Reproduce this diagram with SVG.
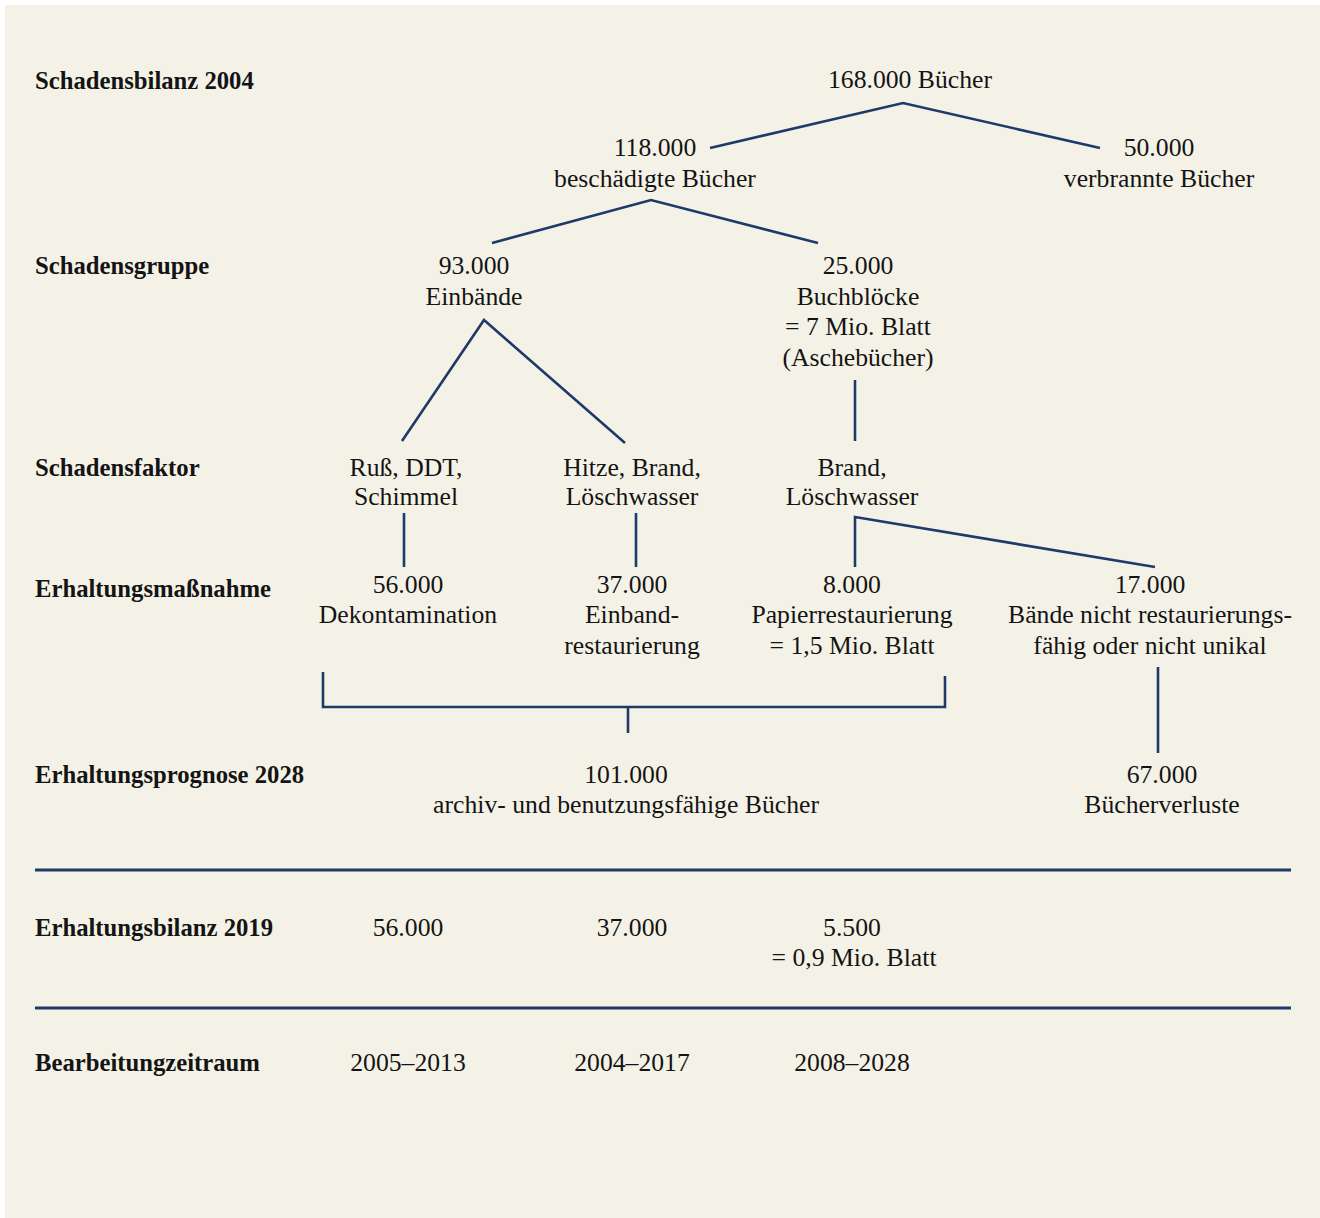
<svg xmlns="http://www.w3.org/2000/svg" width="1320" height="1218" viewBox="0 0 1320 1218">
<style>
.bg{fill:#F4F2E7}
.t{font-family:"Liberation Serif","Times New Roman",serif;font-size:25.7px;fill:#141414;text-anchor:middle}
.h{font-family:"Liberation Serif","Times New Roman",serif;font-size:24.7px;font-weight:bold;fill:#141414}
.c{fill:none;stroke:#1F3A68;stroke-width:2.6;stroke-linejoin:miter}
.r{stroke:#1F3A68;stroke-width:3}
</style>
<rect x="0" y="0" width="1320" height="1218" fill="#FFFFFF"/>
<rect class="bg" x="5" y="5" width="1315" height="1213"/>

<g id="row-labels">
<text class="h" x="35" y="89">Schadensbilanz 2004</text>
<text class="h" x="35" y="274">Schadensgruppe</text>
<text class="h" x="35" y="476">Schadensfaktor</text>
<text class="h" x="35" y="597">Erhaltungsmaßnahme</text>
<text class="h" x="35" y="783">Erhaltungsprognose 2028</text>
<text class="h" x="35" y="936">Erhaltungsbilanz 2019</text>
<text class="h" x="35" y="1071">Bearbeitungzeitraum</text>
</g>

<g id="connectors">
<polyline class="c" points="710,148 903,103 1100,148"/>
<polyline class="c" points="492,243 651,200 818,243"/>
<polyline class="c" points="402,441 484,320 625,443"/>
<line class="c" x1="855" y1="380" x2="855" y2="441"/>
<line class="c" x1="404" y1="513" x2="404" y2="567"/>
<line class="c" x1="636" y1="513" x2="636" y2="567"/>
<polyline class="c" points="855,567 855,517 1155,567"/>
<polyline class="c" points="323,672 323,707 945,707 945,676"/>
<line class="c" x1="628" y1="707" x2="628" y2="733"/>
<line class="c" x1="1158" y1="667" x2="1158" y2="753"/>
<line class="r" x1="35" y1="870" x2="1291" y2="870"/>
<line class="r" x1="35" y1="1008" x2="1291" y2="1008"/>
</g>

<g id="n-total"><text class="t" x="910" y="88">168.000 Bücher</text></g>
<g id="n-damaged"><text class="t" x="655" y="156">118.000</text><text class="t" x="655" y="187">beschädigte Bücher</text></g>
<g id="n-burnt"><text class="t" x="1159" y="156">50.000</text><text class="t" x="1159" y="187">verbrannte Bücher</text></g>
<g id="n-einbaende"><text class="t" x="474" y="274">93.000</text><text class="t" x="474" y="305">Einbände</text></g>
<g id="n-buchbloecke"><text class="t" x="858" y="274">25.000</text><text class="t" x="858" y="305">Buchblöcke</text><text class="t" x="858" y="335">= 7 Mio. Blatt</text><text class="t" x="858" y="366">(Aschebücher)</text></g>
<g id="n-russ"><text class="t" x="406" y="476">Ruß, DDT,</text><text class="t" x="406" y="505">Schimmel</text></g>
<g id="n-hitze"><text class="t" x="632" y="476">Hitze, Brand,</text><text class="t" x="632" y="505">Löschwasser</text></g>
<g id="n-brand"><text class="t" x="852" y="476">Brand,</text><text class="t" x="852" y="505">Löschwasser</text></g>
<g id="n-dekont"><text class="t" x="408" y="593">56.000</text><text class="t" x="408" y="623">Dekontamination</text></g>
<g id="n-einband"><text class="t" x="632" y="593">37.000</text><text class="t" x="632" y="623">Einband-</text><text class="t" x="632" y="654">restaurierung</text></g>
<g id="n-papier"><text class="t" x="852" y="593">8.000</text><text class="t" x="852" y="623">Papierrestaurierung</text><text class="t" x="852" y="654">= 1,5 Mio. Blatt</text></g>
<g id="n-nicht"><text class="t" x="1150" y="593">17.000</text><text class="t" x="1150" y="623">Bände nicht restaurierungs-</text><text class="t" x="1150" y="654">fähig oder nicht unikal</text></g>
<g id="n-archiv"><text class="t" x="626" y="783">101.000</text><text class="t" x="626" y="813">archiv- und benutzungsfähige Bücher</text></g>
<g id="n-verluste"><text class="t" x="1162" y="783">67.000</text><text class="t" x="1162" y="813">Bücherverluste</text></g>
<g id="n-bilanz"><text class="t" x="408" y="936">56.000</text><text class="t" x="632" y="936">37.000</text><text class="t" x="852" y="936">5.500</text><text class="t" x="854" y="966">= 0,9 Mio. Blatt</text></g>
<g id="n-zeitraum"><text class="t" x="408" y="1071">2005–2013</text><text class="t" x="632" y="1071">2004–2017</text><text class="t" x="852" y="1071">2008–2028</text></g>
</svg>
